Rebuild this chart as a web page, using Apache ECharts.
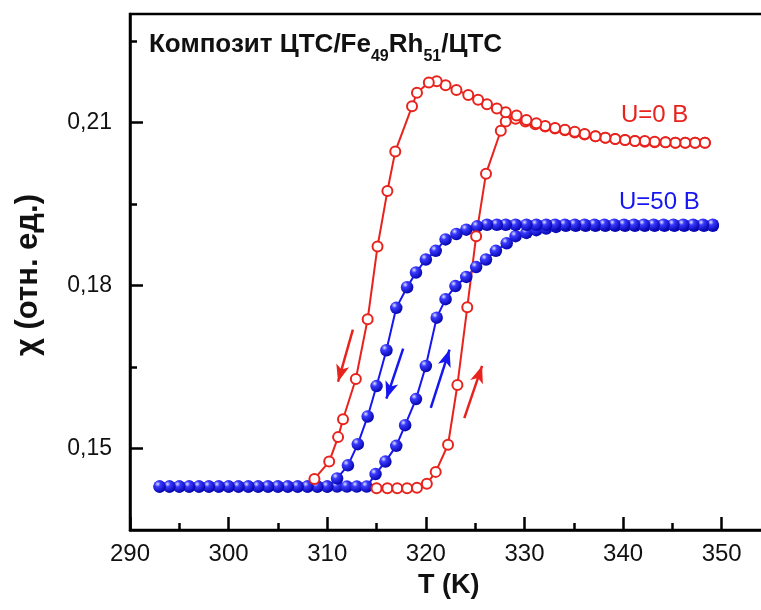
<!DOCTYPE html>
<html>
<head>
<meta charset="utf-8">
<script src="https://cdn.jsdelivr.net/npm/echarts@6/dist/echarts.min.js"></script>
<style>
  html, body { margin: 0; padding: 0; background: #fff; }
  #chart { width: 761px; height: 610px; }
</style>
</head>
<body>
<div id="chart"></div>
<script>
// U = 0 B, heating (low T -> high T)
var red0HeatT = [315.0, 316.1, 317.1, 318.1, 319.1, 320.1, 321.0, 322.25, 323.2, 324.2, 325.1, 326.1, 327.6, 328.1,
  329.1, 330.1, 331.1, 332.1, 333.1, 334.1, 335.1, 336.1, 337.2, 338.2, 339.2, 340.2, 341.2, 342.2, 343.2, 344.3,
  345.3, 346.3, 347.3, 348.3];
var red0HeatChi = [0.1427, 0.1427, 0.1427, 0.1427, 0.1428, 0.1435, 0.1457, 0.1507, 0.1617, 0.1760, 0.1891, 0.2006, 0.2085, 0.2102,
  0.2107, 0.2102, 0.2097, 0.2093, 0.2089, 0.2086, 0.2082, 0.2078, 0.2075, 0.2072, 0.2070, 0.2068, 0.2066, 0.2065, 0.2064, 0.2064,
  0.2063, 0.2063, 0.2063, 0.2063];
// U = 0 B, cooling (high T -> low T)
var red0CoolT = [348.3, 347.3, 346.3, 345.3, 344.3, 343.2, 342.2, 341.2, 340.2, 339.2, 338.2, 337.2, 336.1, 335.1,
  334.1, 333.1, 332.1, 331.2, 330.2, 329.2, 328.1, 327.2, 326.2, 325.3, 324.3, 323.1, 322.0, 321.1, 320.3, 319.1,
  318.6, 316.9, 316.1, 315.1, 314.1, 312.9, 311.6, 311.1, 310.2, 308.7];
var red0CoolChi = [0.2063, 0.2063, 0.2063, 0.2063, 0.2064, 0.2065, 0.2066, 0.2066, 0.2068, 0.2070, 0.2072, 0.2075, 0.2079, 0.2083,
  0.2087, 0.2090, 0.2094, 0.2099, 0.2105, 0.2113, 0.2119, 0.2126, 0.2134, 0.2142, 0.2151, 0.2160, 0.2169, 0.2176, 0.2174, 0.2155,
  0.2130, 0.2047, 0.1974, 0.1872, 0.1738, 0.1628, 0.1554, 0.1521, 0.1476, 0.1444];

// U = 50 B, heating
var blue50HeatT = [293, 294, 295, 296, 297, 298, 299, 300, 301, 302, 303, 304, 305, 306, 307, 308, 309, 310, 311, 312, 313, 314,
  314.9, 315.9, 317.0, 317.9, 319.0, 320.0, 321.1, 322.0, 323.0, 324.1, 325.1, 326.1, 327.1, 328.2, 329.1, 330.2, 331.2,
  332.2, 333.2, 334.2, 335.2, 336.2, 337.2, 338.2, 339.2, 340.2, 341.2, 342.2, 343.2, 344.2, 345.2, 346.2, 347.2, 348.2, 349.1];
var blue50HeatChi = [0.1430, 0.1430, 0.1430, 0.1430, 0.1430, 0.1430, 0.1430, 0.1430, 0.1430, 0.1430, 0.1430, 0.1430, 0.1430,
  0.1430, 0.1430, 0.1430, 0.1430, 0.1430, 0.1430, 0.1430, 0.1430, 0.1430,
  0.1453, 0.1476, 0.1505, 0.1543, 0.1591, 0.1652, 0.1741, 0.1775, 0.1799, 0.1816, 0.1834, 0.1848, 0.1864, 0.1878, 0.1891, 0.1897, 0.1902,
  0.1905, 0.1908, 0.1910, 0.1910, 0.1910, 0.1910, 0.1910, 0.1910, 0.1910, 0.1910, 0.1910, 0.1910, 0.1910, 0.1910, 0.1910, 0.1910, 0.1910, 0.1910];
// U = 50 B, cooling
var blue50CoolT = [349.1, 348.1, 347.1, 346.1, 345.1, 344.1, 343.1, 342.1, 341.1, 340.1, 339.1, 338.1, 337.1, 336.1, 335.1,
  334.1, 333.1, 332.2, 331.2, 330.2, 329.1, 328.1, 327.2, 326.2, 325.2, 324.1, 323.1, 322.0, 321.0, 320.0, 319.0, 318.1,
  317.0, 316.0, 315.0, 314.1, 313.1, 312.1, 311.0, 310, 309, 308, 307, 306, 305, 304, 303, 302, 301, 300, 299, 298, 297,
  296, 295, 294, 293];
var blue50CoolChi = [0.1912, 0.1912, 0.1912, 0.1912, 0.1912, 0.1912, 0.1912, 0.1912, 0.1912, 0.1912, 0.1912, 0.1912, 0.1912, 0.1912, 0.1912,
  0.1912, 0.1912, 0.1912, 0.1912, 0.1912, 0.1912, 0.1912, 0.1912, 0.1912, 0.1909, 0.1903, 0.1895, 0.1885, 0.1864, 0.1848, 0.1824, 0.1797,
  0.1759, 0.1681, 0.1615, 0.1559, 0.1508, 0.1469, 0.1445, 0.1430, 0.1430, 0.1430, 0.1430, 0.1430, 0.1430, 0.1430, 0.1430, 0.1430, 0.1430,
  0.1430, 0.1430, 0.1430, 0.1430, 0.1430, 0.1430, 0.1430, 0.1430];

// direction arrows [T start, chi start, T end, chi end]
var redArrows = [[312.6, 0.1719, 311.1, 0.1623], [323.9, 0.1556, 325.7, 0.1652]];
var blueArrows = [[317.7, 0.1684, 316.0, 0.1592], [320.5, 0.1575, 322.4, 0.1682]];

var xMajor = [290, 300, 310, 320, 330, 340, 350];
var xMinor = [295, 305, 315, 325, 335, 345];
var yMajor = [0.15, 0.18, 0.21];
var yMinor = [0.165, 0.195, 0.225];

var RED = '#e8231d';
var BLUE = '#1616f0';
var FONT = 'Liberation Sans, Arial, sans-serif';

function pairs(xs, ys) {
  return xs.map(function (x, i) { return [x, ys[i]]; });
}
function arrowLines(list) {
  return list.map(function (a) {
    return [{ coord: [a[0], a[1]] }, { coord: [a[2], a[3]] }];
  });
}

var ball = new echarts.graphic.RadialGradient(0.35, 0.3, 0.75, [
  { offset: 0, color: '#dfe3ff' },
  { offset: 0.3, color: '#3a3aff' },
  { offset: 1, color: '#0000a8' }
]);

function redSeries(data, arrows) {
  return {
    type: 'line',
    data: data,
    symbol: 'circle',
    symbolSize: 10,
    lineStyle: { color: RED, width: 2 },
    itemStyle: { color: '#fff', borderColor: RED, borderWidth: 2 },
    markLine: arrows ? {
      silent: true,
      symbol: ['none', 'arrow'],
      symbolSize: [10, 17],
      label: { show: false },
      lineStyle: { color: RED, width: 2.5, type: 'solid' },
      data: arrowLines(arrows)
    } : undefined
  };
}
function blueSeries(data, arrows) {
  return {
    type: 'line',
    data: data,
    symbol: 'circle',
    symbolSize: 12.5,
    lineStyle: { color: BLUE, width: 2 },
    itemStyle: { color: ball },
    markLine: arrows ? {
      silent: true,
      symbol: ['none', 'arrow'],
      symbolSize: [10, 17],
      label: { show: false },
      lineStyle: { color: BLUE, width: 2.5, type: 'solid' },
      data: arrowLines(arrows)
    } : undefined
  };
}

var myChart = echarts.init(document.getElementById('chart'));
var option = {
  animation: false,
  backgroundColor: '#fff',
  grid: {
    left: 130, top: 14, width: 641, bottom: 80,
    outerBoundsMode: 'none',
    show: true, borderColor: '#000', borderWidth: 2.5, backgroundColor: 'transparent'
  },
  xAxis: [{
    type: 'value', min: 290, max: 355,
    axisLine: { onZero: false, lineStyle: { color: '#000', width: 2.5 } },
    axisTick: { inside: true, length: 13, customValues: xMajor, lineStyle: { color: '#000', width: 2.5 } },
    axisLabel: { customValues: xMajor, fontSize: 24, color: '#111', margin: 12, fontFamily: FONT },
    splitLine: { show: false }
  }, {
    type: 'value', min: 290, max: 355, position: 'bottom',
    axisLine: { show: false },
    axisTick: { inside: true, length: 7, customValues: xMinor, lineStyle: { color: '#000', width: 2.5 } },
    axisLabel: { show: false },
    splitLine: { show: false }
  }],
  yAxis: [{
    type: 'value', min: 0.135, max: 0.23,
    axisLine: { onZero: false, lineStyle: { color: '#000', width: 2.5 } },
    axisTick: { inside: true, length: 13, customValues: yMajor, lineStyle: { color: '#000', width: 2.5 } },
    axisLabel: {
      customValues: yMajor, fontSize: 23, color: '#111', margin: 18, fontFamily: FONT,
      formatter: function (v) { return v.toFixed(2).replace('.', ','); }
    },
    splitLine: { show: false }
  }, {
    type: 'value', min: 0.135, max: 0.23, position: 'left',
    axisLine: { show: false },
    axisTick: { inside: true, length: 7, customValues: yMinor, lineStyle: { color: '#000', width: 2.5 } },
    axisLabel: { show: false },
    splitLine: { show: false }
  }],
  graphic: [
    {
      type: 'text', left: 149, top: 32,
      style: {
        text: '{b|Композит ЦТС/Fe}{s|49}{b|Rh}{s|51}{b|/ЦТС}',
        rich: {
          b: { fontSize: 26, fontWeight: 'bold', fontFamily: FONT, fill: '#111', lineHeight: 28, verticalAlign: 'top' },
          s: { fontSize: 16, fontWeight: 'bold', fontFamily: FONT, fill: '#111', lineHeight: 16, padding: [17, 0, 0, 0], verticalAlign: 'top' }
        }
      }
    },
    {
      type: 'text', left: 621, top: 103,
      style: { text: 'U=0 B', fontSize: 24, fontFamily: FONT, fill: RED }
    },
    {
      type: 'text', left: 619, top: 190,
      style: { text: 'U=50 B', fontSize: 24, fontFamily: FONT, fill: BLUE }
    },
    {
      type: 'text', left: 418, top: 572,
      style: { text: 'T (K)', fontSize: 27, fontWeight: 'bold', fontFamily: FONT, fill: '#111' }
    },
    {
      type: 'text', x: 28, y: 275, rotation: Math.PI / 2,
      style: {
        text: 'χ (отн. ед.)', fontSize: 31, fontWeight: 'bold', fontFamily: FONT, fill: '#111',
        align: 'center', verticalAlign: 'middle'
      }
    }
  ],
  series: [
    blueSeries(pairs(blue50HeatT, blue50HeatChi), blueArrows),
    blueSeries(pairs(blue50CoolT, blue50CoolChi)),
    redSeries(pairs(red0HeatT, red0HeatChi), redArrows),
    redSeries(pairs(red0CoolT, red0CoolChi))
  ]
};
myChart.setOption(option);
</script>
</body>
</html>
